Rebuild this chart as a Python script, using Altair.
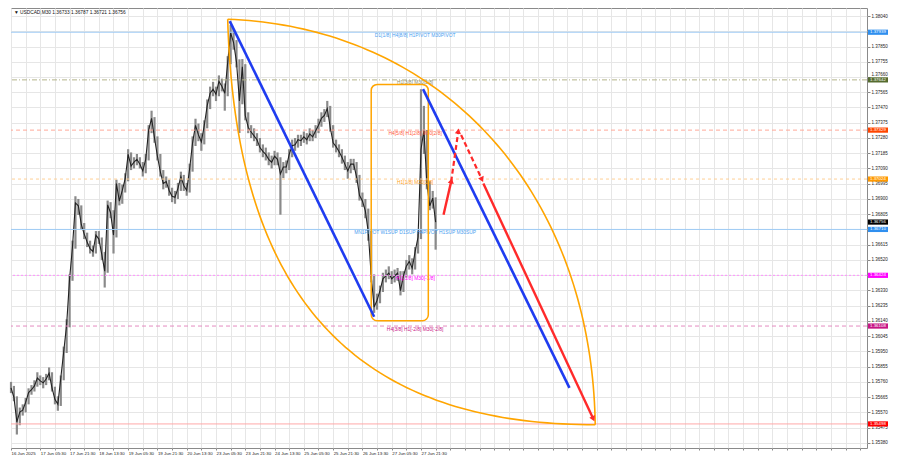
import json
import altair as alt
import numpy as np
import pandas as pd

# ---------------- data ----------------
close = [
    1.35723, 1.35663, 1.35511, 1.35572, 1.35584, 1.35632, 1.35693, 1.35711, 1.35735, 1.35784,
    1.35766, 1.35754, 1.35778, 1.35814, 1.35723, 1.35651, 1.35620, 1.35784, 1.35948, 1.36117,
    1.36402, 1.36602, 1.36875, 1.36857, 1.36741, 1.36681, 1.36632, 1.36590, 1.36572, 1.36675,
    1.36650, 1.36554, 1.36450, 1.36863, 1.36814, 1.36675, 1.36996, 1.36887, 1.36953, 1.37026,
    1.37178, 1.37105, 1.37129, 1.37147, 1.37117, 1.37075, 1.37147, 1.37329, 1.37402, 1.37281,
    1.37166, 1.37069, 1.36996, 1.37008, 1.36953, 1.36917, 1.36911, 1.36966, 1.37038, 1.36984,
    1.36953, 1.37087, 1.37250, 1.37359, 1.37299, 1.37256, 1.37359, 1.37481, 1.37559, 1.37584,
    1.37553, 1.37632, 1.37602, 1.37559, 1.37753, 1.37935, 1.37875, 1.37753, 1.37511, 1.37723,
    1.37420, 1.37347, 1.37317, 1.37293, 1.37269, 1.37220, 1.37196, 1.37178, 1.37147, 1.37129,
    1.37166, 1.37147, 1.37056, 1.37099, 1.37099, 1.37178, 1.37232, 1.37238, 1.37269, 1.37263,
    1.37287, 1.37269, 1.37305, 1.37287, 1.37323, 1.37359, 1.37402, 1.37420, 1.37463, 1.37347,
    1.37250, 1.37226, 1.37196, 1.37160, 1.37117, 1.37075, 1.37117, 1.37117, 1.37038, 1.36923,
    1.36887, 1.36826, 1.36693, 1.36420, 1.36226, 1.36269, 1.36329, 1.36402, 1.36420, 1.36438,
    1.36402, 1.36420, 1.36438, 1.36329, 1.36420, 1.36481, 1.36511, 1.36469, 1.36572, 1.36663,
    1.37208, 1.37329, 1.36996, 1.36857, 1.36905, 1.36756,
]
high = [
    1.35760, 1.35735, 1.35670, 1.35600, 1.35620, 1.35660, 1.35720, 1.35740, 1.35770, 1.35820,
    1.35800, 1.35790, 1.35810, 1.35850, 1.35820, 1.35730, 1.35670, 1.35800, 1.35980, 1.36150,
    1.36430, 1.36640, 1.36917, 1.36900, 1.36860, 1.36750, 1.36690, 1.36640, 1.36610, 1.36700,
    1.36700, 1.36660, 1.36570, 1.36890, 1.36880, 1.36830, 1.37020, 1.37000, 1.36990, 1.37060,
    1.37210, 1.37190, 1.37160, 1.37180, 1.37160, 1.37130, 1.37180, 1.37360, 1.37450, 1.37410,
    1.37290, 1.37180, 1.37080, 1.37040, 1.37020, 1.36970, 1.36950, 1.37000, 1.37070, 1.37050,
    1.37000, 1.37120, 1.37290, 1.37400, 1.37370, 1.37310, 1.37390, 1.37520, 1.37600, 1.37630,
    1.37600, 1.37670, 1.37650, 1.37620, 1.37790, 1.37984, 1.37960, 1.37890, 1.37770, 1.37772,
    1.37740, 1.37440, 1.37360, 1.37340, 1.37310, 1.37280, 1.37240, 1.37220, 1.37190, 1.37170,
    1.37200, 1.37190, 1.37160, 1.37130, 1.37140, 1.37210, 1.37270, 1.37280, 1.37300, 1.37300,
    1.37320, 1.37310, 1.37340, 1.37330, 1.37360, 1.37400, 1.37440, 1.37460, 1.37511, 1.37480,
    1.37360, 1.37270, 1.37240, 1.37210, 1.37170, 1.37130, 1.37150, 1.37150, 1.37130, 1.37050,
    1.36940, 1.36900, 1.36840, 1.36700, 1.36430, 1.36310, 1.36360, 1.36440, 1.36460, 1.36480,
    1.36450, 1.36460, 1.36470, 1.36450, 1.36450, 1.36520, 1.36550, 1.36530, 1.36600, 1.36700,
    1.37584, 1.37480, 1.37330, 1.37010, 1.36950, 1.36910,
]
low = [
    1.35690, 1.35640, 1.35432, 1.35490, 1.35550, 1.35570, 1.35620, 1.35680, 1.35700, 1.35730,
    1.35740, 1.35720, 1.35740, 1.35770, 1.35700, 1.35620, 1.35580, 1.35610, 1.35770, 1.35940,
    1.36100, 1.36390, 1.36590, 1.36800, 1.36710, 1.36650, 1.36600, 1.36560, 1.36540, 1.36560,
    1.36620, 1.36520, 1.36348, 1.36440, 1.36780, 1.36560, 1.36660, 1.36860, 1.36870, 1.36940,
    1.37010, 1.37080, 1.37090, 1.37110, 1.37090, 1.37040, 1.37060, 1.37140, 1.37310, 1.37250,
    1.37140, 1.37040, 1.36960, 1.36970, 1.36920, 1.36880, 1.36870, 1.36900, 1.36950, 1.36950,
    1.36920, 1.36940, 1.37070, 1.37230, 1.37260, 1.37200, 1.37240, 1.37340, 1.37460, 1.37540,
    1.37510, 1.37540, 1.37570, 1.37450, 1.37540, 1.37740, 1.37830, 1.37720, 1.37311, 1.37490,
    1.37390, 1.37310, 1.37280, 1.37260, 1.37230, 1.37190, 1.37160, 1.37140, 1.37110, 1.37090,
    1.37110, 1.37110, 1.36802, 1.37030, 1.37060, 1.37080, 1.37160, 1.37200, 1.37220, 1.37230,
    1.37250, 1.37240, 1.37260, 1.37260, 1.37280, 1.37310, 1.37350, 1.37380, 1.37410, 1.37320,
    1.37220, 1.37190, 1.37160, 1.37120, 1.37080, 1.37026, 1.37060, 1.37080, 1.37000, 1.36890,
    1.36850, 1.36780, 1.36640, 1.36380, 1.36190, 1.36210, 1.36250, 1.36320, 1.36380, 1.36400,
    1.36370, 1.36380, 1.36390, 1.36299, 1.36320, 1.36410, 1.36460, 1.36430, 1.36460, 1.36560,
    1.36650, 1.37180, 1.36960, 1.36830, 1.36840, 1.36584,
]

time_labels = ["16 Jun 2025", "17 Jun 05:30", "17 Jun 21:30", "18 Jun 13:30", "19 Jun 05:30",
               "19 Jun 21:30", "20 Jun 13:30", "23 Jun 05:30", "23 Jun 21:30", "24 Jun 13:30",
               "25 Jun 05:30", "25 Jun 21:30", "26 Jun 13:30", "27 Jun 05:30", "27 Jun 21:30"]

price_ticks = [1.35380, 1.35475, 1.35570, 1.35665, 1.35760, 1.35855, 1.35950, 1.36045,
               1.36140, 1.36235, 1.36330, 1.36425, 1.36520, 1.36615, 1.36710, 1.36805,
               1.36900, 1.36995, 1.37090, 1.37185, 1.37280, 1.37375, 1.37470, 1.37565,
               1.37660, 1.37755, 1.37850, 1.37945, 1.38040]

level_prices = [1.37939, 1.37642, 1.37329, 1.37024, 1.36710, 1.36424, 1.36108, 1.35498]
level_names = ["D1[1/8] H4[8/8] H1PIVOT M30PIVOT", "H1[3/8] M30[3/8]",
               "H4[5/8] H1[2/8] M30[2/8]", "H1[1/8] M30[1/8]",
               "MN1PIVOT W1SUP D1SUP H4PIVOT H1SUP M30SUP", "H1[-1/8] M30[-1/8]",
               "H4[3/8] H1[-2/8] M30[-2/8]", ""]
level_line_colors = ["#9fcbf5", "#b4b48a", "#ffa898", "#ffcf94", "#9fcbf5", "#ff90ff", "#e48cc0", "#ffa8a8"]
level_text_colors = ["#4aa0f0", "#8c8c6a", "#ff5a3c", "#ffa020", "#4aa0f0", "#ff00ff", "#c71585", "#ff0000"]
level_dashes = [[1, 0], [5, 2, 1, 2], [4, 3], [3, 3], [1, 0], [2, 2], [4, 3], [1, 0]]

box_prices = [1.37939, 1.37642, 1.37329, 1.37024, 1.36756, 1.36710, 1.36424, 1.36108, 1.35498]
box_colors = ["#2f8fef", "#556b2f", "#ff4500", "#ff9900", "#000000", "#2f8fef", "#ff00ff", "#c71585", "#ff0000"]

label_x = 138.0  # bar-slot position of the level captions

# drawn objects (anchor points in slot / price units)
rect_box = {"x": 123.0, "x2": 142.5, "p": 1.37614, "p2": 1.36141}
blue_lines = [[(74.7, 1.38008), (124.0, 1.36166)], [(140.7, 1.37584), (190.7, 1.35723)]]
red_solid = [[(147.7, 1.36802), (150.3, 1.37008)], [(161.3, 1.36996), (198.7, 1.35535)]]
red_dashed = [[(150.3, 1.37008), (152.7, 1.37317)], [(153.7, 1.37299), (160.7, 1.37026)]]
arrow_heads = [(150.3, 1.37008, 13), (152.7, 1.37317, 8), (160.7, 1.37026, 155), (198.7, 1.35535, 155)]
arc_start = (74.0, 1.38020)
arc_end = (199.5, 1.35493)

# ---------------- layout ----------------
W, H = 856, 440
XMAX = 292.3
YMIN, YMAX = 1.35348, 1.38090
FONT = "Liberation Sans"
xs = alt.Scale(domain=[0, XMAX], nice=False, zero=False)
ys = alt.Scale(domain=[YMIN, YMAX], nice=False, zero=False)

candles = pd.DataFrame({"i": list(range(len(close))), "c": close, "h": high, "l": low})

label_expr = ("datum.value % 10 === 0 ? " + json.dumps(time_labels) +
              "[datum.value / 10] : ''")
# axis price labels hidden where a coloured price box covers them
hide_cond = " || ".join(f"abs(datum.value - {v}) < 0.00012" for v in box_prices)
y_label_expr = f"({hide_cond}) ? '' : format(datum.value, '.5f')"
# labels sitting just beside a box are nudged off it
near_cond = " || ".join(f"(datum.value - {v} > 0.00012 && datum.value - {v} < 0.00022)" for v in box_prices)

x_axis = alt.Axis(values=list(range(0, 291, 5)), labelExpr=label_expr, grid=True,
                  gridColor="#e6e6e6", gridWidth=1, tickSize=2, tickColor="#888",
                  labelFontSize=4.4, labelFont=FONT, labelColor="#222", labelAlign="left",
                  labelPadding=1, labelFlush=False, labelOverlap=False, domain=False, title=None)
y_axis = alt.Axis(orient="right", values=price_ticks, labelExpr=y_label_expr, grid=True,
                  gridColor="#e6e6e6", gridWidth=1, tickSize=3, tickColor="#888",
                  labelFontSize=4.5, labelFont=FONT, labelColor="#222", labelPadding=1,
                  labelOffset={"condition": {"test": near_cond, "value": -2.8}, "value": 0},
                  labelOverlap=False, labelFlush=False, domain=False, title=None)


def X(field):
    return alt.X(field, scale=xs, axis=x_axis)


def Y(field):
    return alt.Y(field, scale=ys, axis=y_axis)


base = alt.Chart(candles)
wicks = base.mark_rule(color="#8a8a8a", strokeWidth=2.2).encode(
    x=X("i:Q"), y=Y("l:Q"), y2="h:Q")
close_line = base.mark_line(color="#222222", strokeWidth=1.1).encode(
    x=X("i:Q"), y=Y("c:Q"))

layers = [wicks, close_line]

# horizontal levels
for p, col, dash in zip(level_prices, level_line_colors, level_dashes):
    df = pd.DataFrame({"p": [p]})
    layers.append(alt.Chart(df).mark_rule(color=col, strokeWidth=1, strokeDash=dash).encode(
        y=Y("p:Q")))

lev = pd.DataFrame({"p": level_prices, "name": level_names, "tc": level_text_colors,
                    "lx": [label_x] * len(level_prices)})
layers.append(alt.Chart(lev).mark_text(font=FONT, fontSize=4.9, dy=3.6, align="center",
                                       baseline="middle").encode(
    x=X("lx:Q"), y=Y("p:Q"), text="name:N", color=alt.Color("tc:N", scale=None)))

# rounded orange rectangle
layers.append(alt.Chart(pd.DataFrame([rect_box])).mark_rect(
    filled=False, stroke="#ffa500", strokeWidth=1.5, cornerRadius=6).encode(
    x=X("x:Q"), x2="x2:Q", y=Y("p:Q"), y2="p2:Q"))


# orange arcs (cubic curves between the two anchor points)
def curve(p0, p1, p2, p3, n=90):
    t = np.linspace(0, 1, n)
    a = (1 - t) ** 3
    b = 3 * (1 - t) ** 2 * t
    c = 3 * (1 - t) * t ** 2
    d = t ** 3
    xv = a * p0[0] + b * p1[0] + c * p2[0] + d * p3[0]
    yv = a * p0[1] + b * p1[1] + c * p2[1] + d * p3[1]
    return xv, yv


ax_, ay_ = arc_start
bx_, by_ = arc_end
dx, dy = bx_ - ax_, ay_ - by_
outer = curve(arc_start, (ax_ + 0.58 * dx, ay_ - 0.02 * dy), (bx_ - 0.01 * dx, by_ + 0.58 * dy), arc_end)
inner = curve(arc_start, (ax_ + 0.02 * dx, ay_ - 0.67 * dy), (bx_ - 0.67 * dx, by_), arc_end)
arcs = pd.concat([
    pd.DataFrame({"x": outer[0], "p": outer[1], "k": "outer", "o": range(len(outer[0]))}),
    pd.DataFrame({"x": inner[0], "p": inner[1], "k": "inner", "o": range(len(inner[0]))}),
])
layers.append(alt.Chart(arcs).mark_line(color="#ffa500", strokeWidth=1.6).encode(
    x=X("x:Q"), y=Y("p:Q"), detail="k:N", order="o:Q"))


def seg_df(segs):
    rows = []
    for k, (a, b) in enumerate(segs):
        rows.append({"x": a[0], "p": a[1], "k": k, "o": 0})
        rows.append({"x": b[0], "p": b[1], "k": k, "o": 1})
    return pd.DataFrame(rows)


layers.append(alt.Chart(seg_df(blue_lines)).mark_line(color="#1f3cf0", strokeWidth=2.6).encode(
    x=X("x:Q"), y=Y("p:Q"), detail="k:N", order="o:Q"))
layers.append(alt.Chart(seg_df(red_solid)).mark_line(color="#ff2a2a", strokeWidth=2.4).encode(
    x=X("x:Q"), y=Y("p:Q"), detail="k:N", order="o:Q"))
layers.append(alt.Chart(seg_df(red_dashed)).mark_line(color="#ff2a2a", strokeWidth=2.2,
                                                     strokeDash=[5, 3]).encode(
    x=X("x:Q"), y=Y("p:Q"), detail="k:N", order="o:Q"))
heads = pd.DataFrame(arrow_heads, columns=["x", "p", "ang"])
layers.append(alt.Chart(heads).mark_point(shape="triangle", filled=True, color="#ff2a2a",
                                          size=38, opacity=1).encode(
    x=X("x:Q"), y=Y("p:Q"), angle=alt.Angle("ang:Q", scale=None)))

# coloured price boxes on the right scale
boxes = pd.DataFrame({"p": box_prices, "bc": box_colors,
                      "t": [f"{v:.5f}" for v in box_prices]})
layers.append(alt.Chart(boxes).mark_point(shape="M-1,-0.26H1V0.26H-1Z", filled=True,
                                          size=400, opacity=1, strokeWidth=0).encode(
    x=alt.value(W + 11), y=Y("p:Q"), color=alt.Color("bc:N", scale=None)))
layers.append(alt.Chart(boxes).mark_text(font=FONT, fontSize=4.4, align="left",
                                         baseline="middle", color="white").encode(
    x=alt.value(W + 3), y=Y("p:Q"), text="t:N"))

# header text
layers.append(alt.Chart(pd.DataFrame({"t": ["\u25BC USDCAD,M30  1.36733 1.36787 1.36721 1.36756"]}))
              .mark_text(font=FONT, fontSize=4.8, align="left", baseline="middle", color="#111")
              .encode(x=alt.value(3), y=alt.value(5), text="t:N"))

chart = alt.layer(*layers).properties(
    width=W, height=H, padding={"left": 0, "top": 0, "right": 2, "bottom": 2},
    background="white",
).configure_view(stroke="#8a8a8a", strokeWidth=1)

chart.save("out.html", embed_options={"renderer": "svg", "actions": False})
